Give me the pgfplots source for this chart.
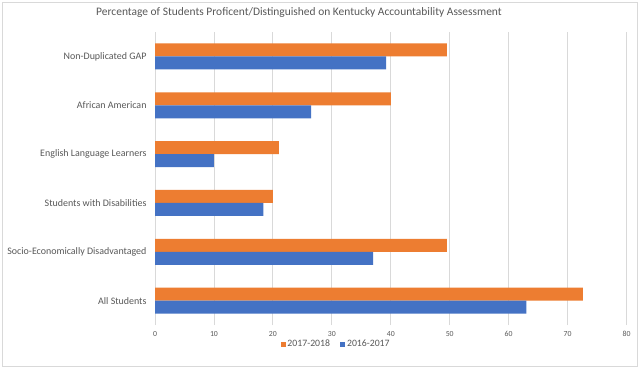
\documentclass[border=0pt]{standalone}
\usepackage{pgfplots}
\pgfplotsset{compat=1.18}
\usepackage{fontspec}
\setmainfont{Carlito}
\definecolor{xorange}{HTML}{ED7D31}
\definecolor{xblue}{HTML}{4472C4}
\definecolor{xtext}{HTML}{595959}
\definecolor{xgrid}{HTML}{D9D9D9}
\begin{document}
\begin{tikzpicture}[x=1bp,y=1bp]
\path[use as bounding box] (0,0) rectangle (640,368);
\fill[white] (0,0) rectangle (640,368);
\draw[xgrid, line width=0.8bp] (2.5,2) rectangle (637,366);
\node[text=xtext, font=\fontsize{11.5}{13}\selectfont] at (299,355) {Percentage of Students Proficent/Distinguished on Kentucky Accountability Assessment};
\begin{axis}[
  at={(155bp,43bp)}, anchor=south west,
  scale only axis, width=471.5bp, height=293bp,
  xbar, bar width=13bp,
  xmin=0, xmax=80, ymin=-0.5, ymax=5.5,
  xtick={0,10,...,80}, ytick={0,1,2,3,4,5},
  yticklabels={All Students, Socio-Economically Disadvantaged, Students with Disabilities, English Language Learners, African American, Non-Duplicated GAP},
  xmajorgrids, grid style={draw=xgrid, line width=0.8bp},
  axis line style={draw=none},
  major tick length=0pt,
  /pgf/number format/assume math mode=true,
  xticklabel style={font=\fontsize{7.8}{9}\selectfont, text=xtext, yshift=-3bp},
  yticklabel style={font=\fontsize{10}{12}\selectfont, text=xtext, xshift=-5bp},
  legend style={at={(0.384,-0.065)}, anchor=center, legend columns=2, draw=none, fill=none,
    font=\fontsize{9.8}{11}\selectfont, text=xtext,
    /tikz/every even column/.append style={column sep=8bp}},
  legend image code/.code={\fill[#1] (0bp,-2.5bp) rectangle (5bp,2.5bp);},
]
\addplot[fill=xorange, draw=none, bar shift=6.5bp] coordinates {
 (72.6,0) (49.5,1) (20.0,2) (21.0,3) (40.0,4) (49.5,5)};
\addlegendentry{2017-2018}
\addplot[fill=xblue, draw=none, bar shift=-6.5bp] coordinates {
 (63.0,0) (37.0,1) (18.4,2) (10.0,3) (26.5,4) (39.2,5)};
\addlegendentry{2016-2017}
\end{axis}
\end{tikzpicture}
\end{document}
